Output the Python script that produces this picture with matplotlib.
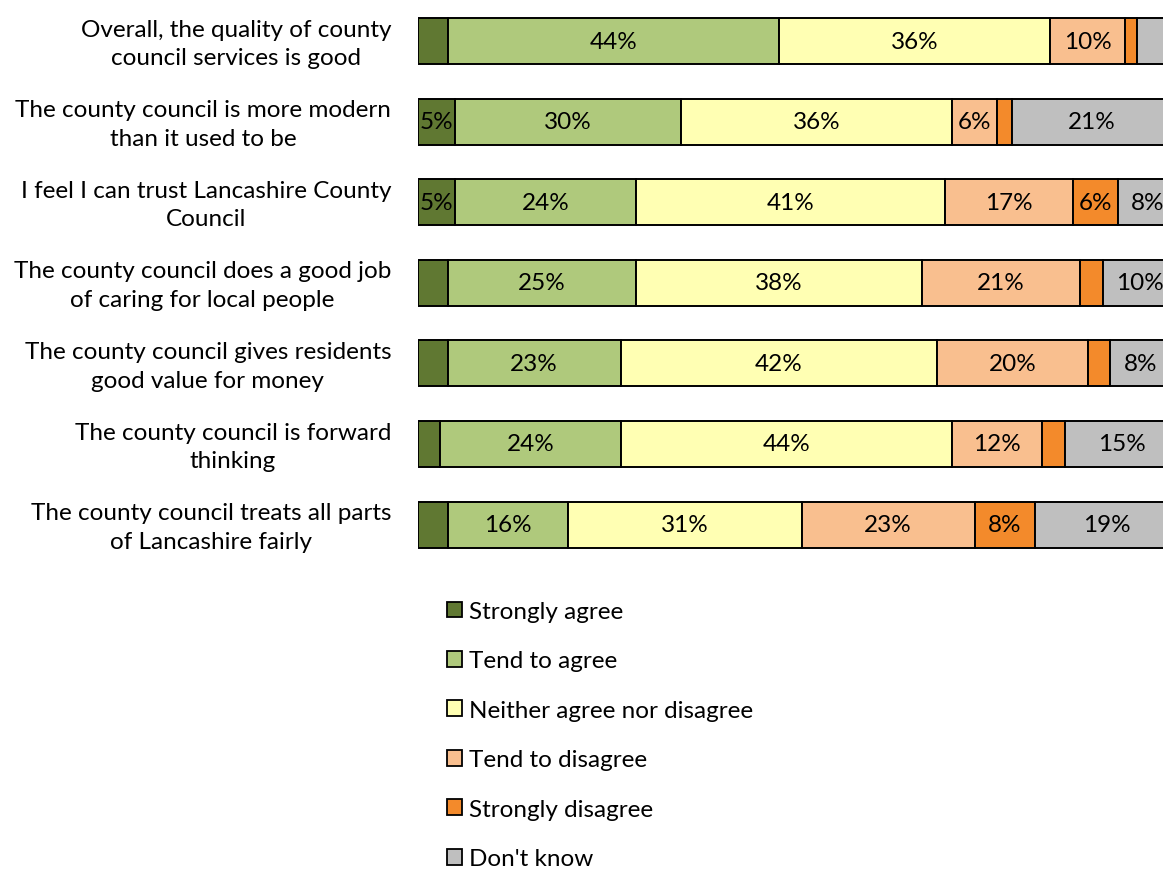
import matplotlib
matplotlib.use("Agg")
import matplotlib.pyplot as plt
from matplotlib.patches import Patch

plt.rcParams['font.family'] = ['Lato', 'DejaVu Sans']

statements = [
    "Overall, the quality of county\ncouncil services is good",
    "The county council is more modern\nthan it used to be",
    "I feel I can trust Lancashire County\nCouncil",
    "The county council does a good job\nof caring for local people",
    "The county council gives residents\ngood value for money",
    "The county council is forward\nthinking",
    "The county council treats all parts\nof Lancashire fairly",
]

responses = [
    "Strongly agree",
    "Tend to agree",
    "Neither agree nor disagree",
    "Tend to disagree",
    "Strongly disagree",
    "Don't know",
]

strongly_agree = [4, 5, 5, 4, 4, 3, 4]
tend_agree = [44, 30, 24, 25, 23, 24, 16]
neither = [36, 36, 41, 38, 42, 44, 31]
tend_disagree = [10, 6, 17, 21, 20, 12, 23]
strongly_disagree = [1.5, 2, 6, 3, 3, 3, 8]
dont_know = [4.5, 21, 8, 10, 8, 15, 19]

colours = ["#607832", "#AFC97C", "#FFFFB3", "#F9BF8F", "#F38A2B", "#BFBFBF"]

series = [strongly_agree, tend_agree, neither, tend_disagree,
          strongly_disagree, dont_know]

W, H = 1163, 870
fig = plt.figure(figsize=(W / 100, H / 100), dpi=100)

# axes placed in pixels: 100% spans ~753 px starting at x=417
ax_left, ax_width = 417.5, 753.0
row_gap = 80.6
ax_top = 42 - 0.5 * row_gap
ax_height = 7 * row_gap
ax = fig.add_axes([ax_left / W, 1 - (ax_top + ax_height) / H,
                   ax_width / W, ax_height / H])

fs = 17.5
y = list(range(len(statements)))
left = [0] * len(statements)
for vals, name, col in zip(series, responses, colours):
    ax.barh(y, vals, left=left, height=0.57, color=col,
            edgecolor="black", linewidth=1.4, label=name)
    for i, v in enumerate(vals):
        if v >= 5:
            ax.text(left[i] + v / 2, i, f"{v:.0f}%", ha="center", va="center",
                    fontsize=fs, color="black")
    left = [a + b for a, b in zip(left, vals)]

ax.set_xlim(0, 100)
ax.set_ylim(6.5, -0.5)
ax.axis("off")

for i, s in enumerate(statements):
    ax.text(-3.5, i + 0.03, s, ha="right", va="center",
            multialignment="center", fontsize=fs, linespacing=1.45)

handles = [Patch(facecolor=c, edgecolor="black", linewidth=1.3) for c in colours]
fig.legend(handles, responses, loc="upper left",
           bbox_to_anchor=(447 / W, 1 - 602 / H), frameon=False,
           fontsize=fs, handlelength=0.62, handleheight=0.62,
           handletextpad=0.3, labelspacing=1.17, borderpad=0, borderaxespad=0)

fig.savefig("out.png", dpi=100)
